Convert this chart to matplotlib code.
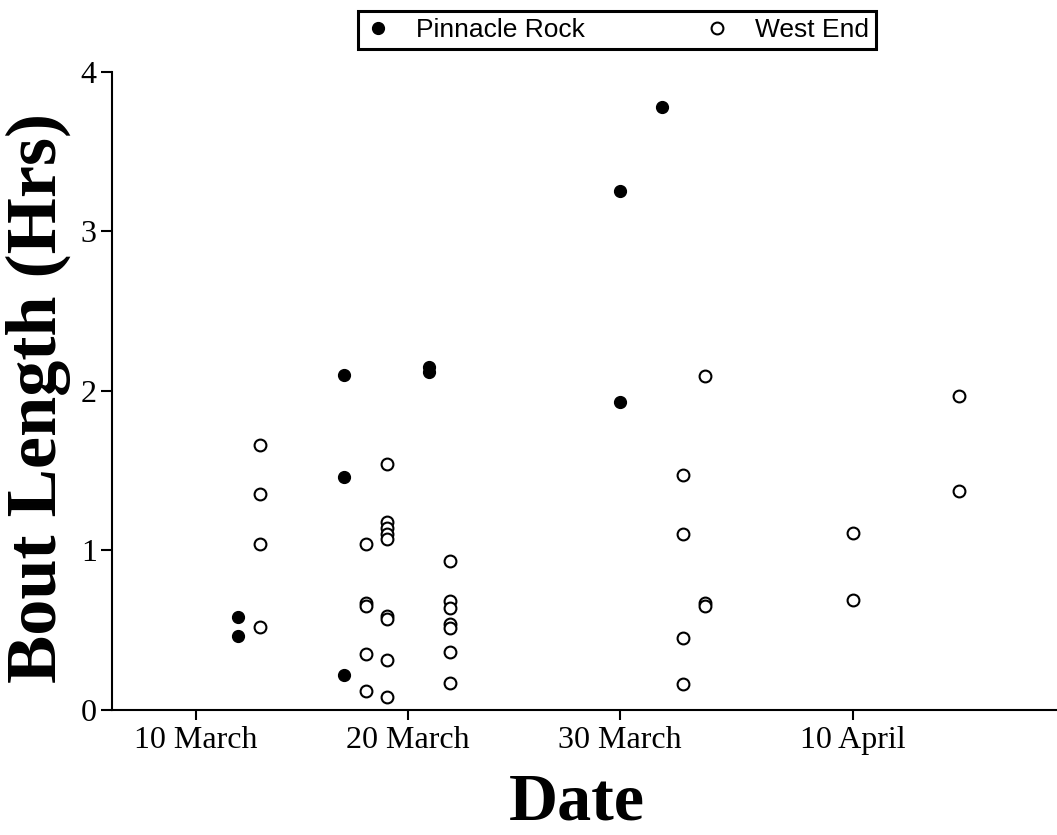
import matplotlib
matplotlib.use("Agg")
import matplotlib.pyplot as plt

# days counted from 1 March (so 10 April = day 41)
tick_days = [10, 20, 30, 41]
tick_labels = ["10 March", "20 March", "30 March", "10 April"]

# Pinnacle Rock (filled)
pr_day = [12, 12, 17, 17, 17, 21, 21, 30, 30, 32]
pr_hrs = [0.58, 0.46, 2.10, 1.46, 0.22, 2.15, 2.12, 3.25, 1.93, 3.78]

# West End (open)
we_day = [13, 13, 13, 13,
          18, 18, 18, 18, 18,
          19, 19, 19, 19, 19, 19, 19, 19, 19,
          22, 22, 22, 22, 22, 22, 22,
          33, 33, 33, 33,
          34, 34, 34,
          41, 41,
          46, 46]
we_hrs = [1.66, 1.35, 1.04, 0.52,
          1.04, 0.67, 0.65, 0.35, 0.12,
          1.54, 1.18, 1.14, 1.10, 1.07, 0.59, 0.57, 0.31, 0.08,
          0.93, 0.68, 0.64, 0.54, 0.51, 0.36, 0.17,
          1.47, 1.10, 0.45, 0.16,
          2.09, 0.67, 0.65,
          1.11, 0.69,
          1.97, 1.37]

serif = "Liberation Serif"
sans = "Liberation Sans"

fig = plt.figure(figsize=(10.57, 8.35), dpi=100)
ax = fig.add_axes([0.106, 0.150, 0.894, 0.764])

ax.plot(pr_day, pr_hrs, "o", color="black", markersize=8.5,
        linestyle="none", label="Pinnacle Rock")
ax.plot(we_day, we_hrs, "o", markerfacecolor="white", markeredgecolor="black",
        markeredgewidth=1.5, markersize=8.5, linestyle="none", label="West End")

ax.set_xlim(6.04, 50.63)
ax.set_ylim(0, 4)
ax.set_xticks(tick_days)
ax.set_xticklabels(tick_labels, fontfamily=serif, fontsize=23)
ax.set_yticks([0, 1, 2, 3, 4])
ax.set_yticklabels(["0", "1", "2", "3", "4"], fontfamily=serif, fontsize=23)

for side in ["top", "right"]:
    ax.spines[side].set_visible(False)
for side in ["left", "bottom"]:
    ax.spines[side].set_linewidth(1.5)
ax.tick_params(axis="both", direction="out", width=1.5, colors="black")
ax.tick_params(axis="y", length=8, pad=3)
ax.tick_params(axis="x", length=7, pad=5)

# axis titles
fig.text(38 / 1057, 1 - 398 / 835, "Bout Length (Hrs)", rotation=90,
         ha="center", va="center", fontfamily=serif, fontweight="bold", fontsize=52)
fig.text(577 / 1057, 1 - 820 / 835, "Date", ha="center", va="baseline",
         fontfamily=serif, fontweight="bold", fontsize=49)

leg = fig.legend(loc="center", bbox_to_anchor=(617 / 1057, 1 - 30 / 835),
                 ncol=2, frameon=True, fancybox=False, framealpha=1,
                 handletextpad=0.95, columnspacing=4.5, borderpad=0.25,
                 handlelength=1.0, borderaxespad=0,
                 prop={"family": sans, "size": 19})
leg.get_frame().set_edgecolor("black")
leg.get_frame().set_linewidth(2.2)

fig.savefig("out.png", dpi=100)
